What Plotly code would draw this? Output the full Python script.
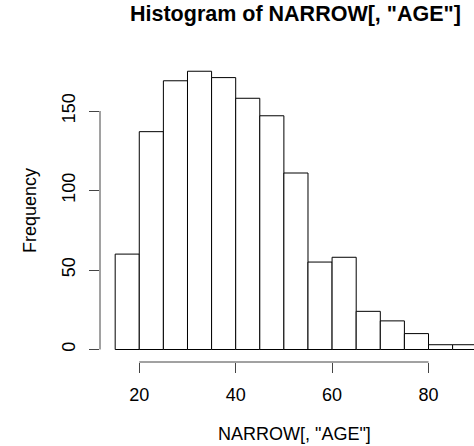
import plotly.graph_objects as go

# Histogram data: bin edges (age) and counts
bin_edges = [15, 20, 25, 30, 35, 40, 45, 50, 55, 60, 65, 70, 75, 80, 85, 90]
counts = [60, 137, 169, 175, 171, 158, 147, 111, 55, 58, 24, 18, 10, 3, 3]
x_ticks = [20, 40, 60, 80]
y_ticks = [0, 50, 100, 150]

title_text = 'Histogram of NARROW[, "AGE"]'
x_label = 'NARROW[, "AGE"]'
y_label = 'Frequency'

centers = [(a + b) / 2 for a, b in zip(bin_edges[:-1], bin_edges[1:])]
widths = [b - a for a, b in zip(bin_edges[:-1], bin_edges[1:])]

FONT = "Liberation Sans, Arial, Helvetica, sans-serif"

fig = go.Figure()
fig.add_trace(go.Bar(
    x=centers, y=counts, width=widths,
    marker=dict(color="white", line=dict(color="black", width=1)),
    hoverinfo="x+y",
))

W, H = 474, 446
ml, mr, mt, mb = 100, 0, 40, 84
ph = H - mt - mb

fig.update_layout(
    width=W, height=H, autosize=False,
    margin=dict(l=ml, r=mr, t=mt, b=mb, pad=0),
    paper_bgcolor="white", plot_bgcolor="white",
    showlegend=False,
    font=dict(family=FONT, size=18, color="black"),
    xaxis=dict(
        range=[11.85, 89.44], tickvals=x_ticks, ticktext=[str(v) for v in x_ticks],
        ticks="outside", ticklen=10, tickwidth=1, tickcolor="#444",
        showgrid=False, zeroline=False, showline=False,
        tickfont=dict(size=18), ticklabelstandoff=6,
    ),
    yaxis=dict(
        range=[-7.86, 194.65], tickvals=y_ticks, ticktext=[str(v) for v in y_ticks],
        ticks="outside", ticklen=10, tickwidth=1, tickcolor="#444",
        showgrid=False, zeroline=False, showline=False,
        tickangle=-90, tickfont=dict(size=18), ticklabelstandoff=7,
    ),
)

# R-style axis lines spanning only the tick range
fig.add_shape(type="line", xref="x", yref="paper", x0=x_ticks[0], x1=x_ticks[-1], y0=0, y1=0,
              line=dict(color="#444", width=1))
fig.add_shape(type="line", xref="paper", yref="y", x0=0, x1=0, y0=y_ticks[0], y1=y_ticks[-1],
              line=dict(color="#444", width=1))

fig.add_annotation(
    text="<b>" + title_text + "</b>", xref="paper", yref="paper",
    x=(295 - ml) / 374, y=1 + (mt - 14) / ph, xanchor="center", yanchor="middle",
    showarrow=False, font=dict(size=21.5, family=FONT, color="black"),
)
fig.add_annotation(
    text=x_label, xref="paper", yref="paper",
    x=(294 - ml) / 374, y=(H - mb - 434) / ph, xanchor="center", yanchor="middle",
    showarrow=False, font=dict(size=18, family=FONT, color="black"),
)
fig.add_annotation(
    text=y_label, xref="paper", yref="paper", textangle=-90,
    x=(30 - ml) / 374, y=(H - mb - 211) / ph, xanchor="center", yanchor="middle",
    showarrow=False, font=dict(size=18, family=FONT, color="black"),
)

fig.write_html("out.html", config={"displayModeBar": False},
               post_script="document.body.style.margin='0px';")
